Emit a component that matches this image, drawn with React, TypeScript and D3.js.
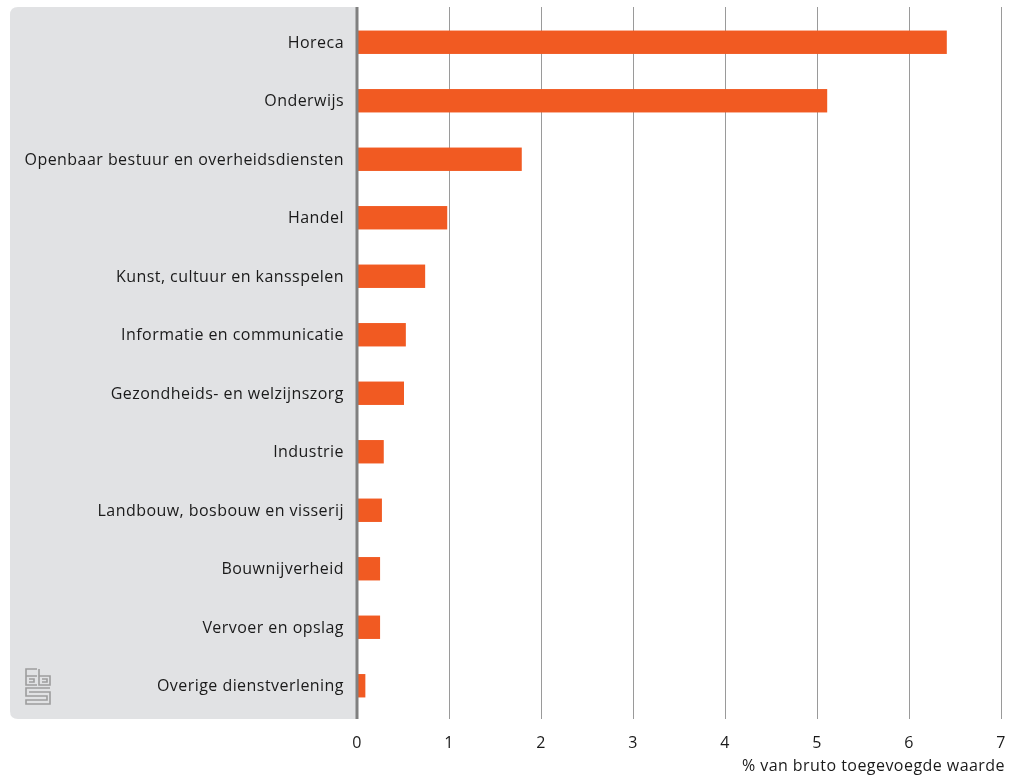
import { useEffect, useRef } from 'react';
import * as d3 from 'd3';

const categories = [
  'Horeca',
  'Onderwijs',
  'Openbaar bestuur en overheidsdiensten',
  'Handel',
  'Kunst, cultuur en kansspelen',
  'Informatie en communicatie',
  'Gezondheids- en welzijnszorg',
  'Industrie',
  'Landbouw, bosbouw en visserij',
  'Bouwnijverheid',
  'Vervoer en opslag',
  'Overige dienstverlening',
];
const values = [6.4, 5.1, 1.78, 0.97, 0.73, 0.52, 0.5, 0.28, 0.26, 0.24, 0.24, 0.08];
const xTicks = [0, 1, 2, 3, 4, 5, 6, 7];
const axisTitle = '% van bruto toegevoegde waarde';

const W = 1018;
const H = 778;
const FONT = '"Open Sans", sans-serif';

export default function App() {
  const svgRef = useRef<SVGSVGElement>(null);

  useEffect(() => {
    if (!svgRef.current) return;
    const svg = d3.select(svgRef.current);
    svg.selectAll('*').remove();

    const top = 7;
    const bottom = 719;
    const x = d3.scaleLinear().domain([0, 7]).range([358, 1002]);
    const y = d3.scaleBand().domain(categories).range([13, 715]).paddingInner(0.6).paddingOuter(0.3);

    // grey label panel with rounded left corners
    const px0 = 10, px1 = 358, r = 8;
    svg.append('path')
      .attr('d', `M${px0 + r},${top} H${px1} V${bottom} H${px0 + r} Q${px0},${bottom} ${px0},${bottom - r} V${top + r} Q${px0},${top} ${px0 + r},${top} Z`)
      .attr('fill', '#e1e2e4');

    // grid
    svg.append('g').selectAll('line')
      .data(xTicks.filter((t) => t > 0))
      .join('line')
      .attr('x1', (d) => x(d) - 0.5)
      .attr('x2', (d) => x(d) - 0.5)
      .attr('y1', top)
      .attr('y2', bottom)
      .attr('stroke', '#9a9a9a')
      .attr('stroke-width', 1);

    // bars
    svg.append('g').selectAll('rect')
      .data(values)
      .join('rect')
      .attr('x', x(0))
      .attr('y', (_, i) => y(categories[i])!)
      .attr('width', (d) => x(d) - x(0))
      .attr('height', y.bandwidth())
      .attr('fill', '#f15a22');

    // zero axis
    svg.append('line')
      .attr('x1', x(0) - 1).attr('x2', x(0) - 1)
      .attr('y1', top).attr('y2', bottom)
      .attr('stroke', '#808080').attr('stroke-width', 3);

    const txt = (sel: any) => sel
      .attr('font-family', FONT)
      .attr('font-size', 16)
      .attr('letter-spacing', 0.45)
      .attr('fill', '#1a1a1a');

    // category labels
    svg.append('g').selectAll('text')
      .data(categories)
      .join('text')
      .attr('x', 344)
      .attr('y', (d) => y(d)! + y.bandwidth() / 2)
      .attr('dy', '0.35em')
      .attr('text-anchor', 'end')
      .call(txt)
      .text((d) => d);

    // tick labels
    svg.append('g').selectAll('text')
      .data(xTicks)
      .join('text')
      .attr('x', (d) => x(d) - 1)
      .attr('y', 748)
      .attr('text-anchor', 'middle')
      .call(txt)
      .text((d) => d);

    svg.append('text')
      .attr('x', 1005)
      .attr('y', 771)
      .attr('text-anchor', 'end')
      .call(txt)
      .text(axisTitle);

    // cbs logo (approximation)
    const logo = svg.append('g')
      .attr('fill', 'none')
      .attr('stroke', '#9d9d9d')
      .attr('stroke-width', 1.6);
    logo.append('path').attr('d', 'M37,669 H26 V685 H37 M26,676 H37 M29,679 H34 V682 H29');
    logo.append('path').attr('d', 'M39,669 V685 H50 V676 H39 M42,679 H47 V682 H42');
    logo.append('path').attr('d', 'M50,688 H26 V696 H47 V700 H26 V704 H50 V692 H29');
  }, []);

  return (
    <svg
      ref={svgRef}
      width={W}
      height={H}
      style={{ position: 'fixed', left: 0, top: 0, display: 'block' }}
    />
  );
}
